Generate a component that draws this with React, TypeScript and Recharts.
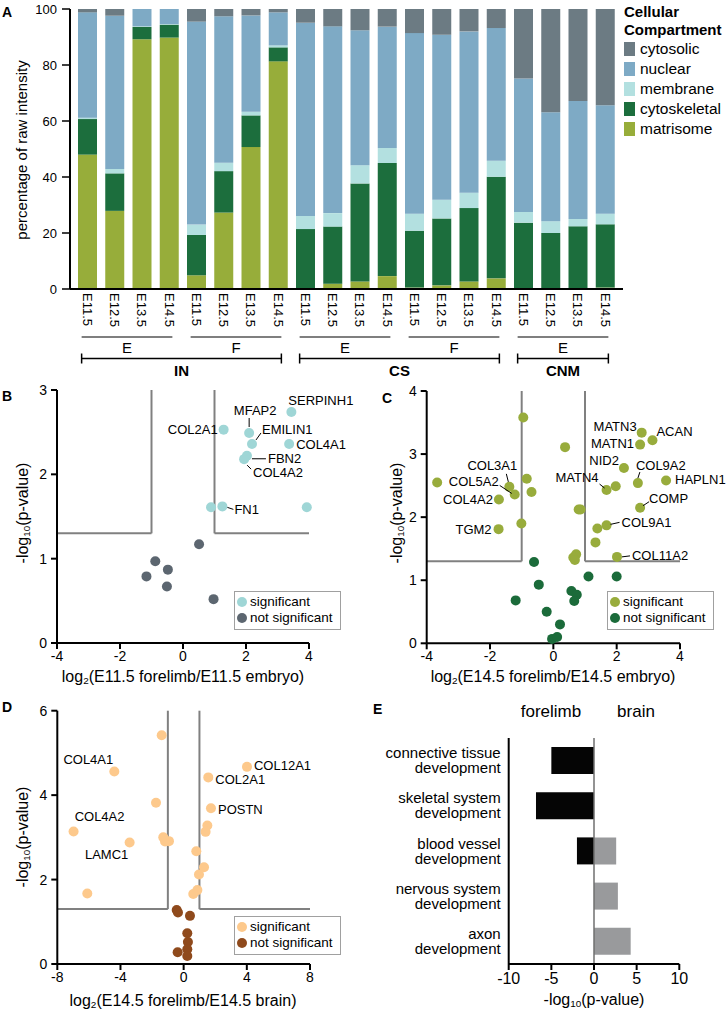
import React from 'react';
import {
  BarChart, Bar, XAxis, YAxis, ScatterChart, Scatter, ReferenceLine,
} from 'recharts';

const FONT = '"Liberation Sans", Arial, Helvetica, sans-serif';

// ---------- A: cellular compartment of raw intensity ----------
// tissue | fraction | stage
const aSamples = [
  'IN|E|E11.5', 'IN|E|E12.5', 'IN|E|E13.5', 'IN|E|E14.5',
  'IN|F|E11.5', 'IN|F|E12.5', 'IN|F|E13.5', 'IN|F|E14.5',
  'CS|E|E11.5', 'CS|E|E12.5', 'CS|E|E13.5', 'CS|E|E14.5',
  'CS|F|E11.5', 'CS|F|E12.5', 'CS|F|E13.5', 'CS|F|E14.5',
  'CNM|E|E11.5', 'CNM|E|E12.5', 'CNM|E|E13.5', 'CNM|E|E14.5',
];
const aMatrisome = [48, 27.9, 89.2, 89.8, 4.9, 27.3, 50.7, 81.3, 0, 1.9, 2.7, 4.6, 0.5, 1.3, 2.7, 3.8, 0, 0, 0, 0.5];
const aCytoskeletal = [12.7, 13.4, 4.4, 4.6, 14.4, 14.8, 11.3, 5.0, 21.4, 20.4, 35.0, 40.4, 20.3, 23.9, 26.2, 36.3, 23.7, 20.0, 22.4, 22.6];
const aMembrane = [0.5, 1.6, 0.2, 0.2, 3.7, 3.0, 1.3, 0.7, 4.7, 4.8, 6.5, 5.4, 6.1, 6.7, 5.5, 5.7, 3.8, 4.2, 2.6, 3.8];
const aNuclear = [37.6, 54.7, 6.2, 5.4, 72.5, 52.3, 34.4, 11.8, 69.0, 66.7, 48.2, 43.3, 64.5, 58.9, 57.6, 47.4, 47.7, 38.9, 42.1, 38.7];
const aCytosolic = [1.2, 2.4, 0, 0, 4.5, 2.6, 2.3, 1.2, 4.9, 6.2, 7.6, 6.3, 8.6, 9.2, 8.0, 6.8, 24.8, 36.9, 32.9, 34.4];
const aYTicks = [0, 20, 40, 60, 80, 100];

const compartments = [
  { key: 'cytosolic', color: '#6c7b83' },
  { key: 'nuclear', color: '#7eaac5' },
  { key: 'membrane', color: '#b3e0e0' },
  { key: 'cytoskeletal', color: '#1c6e3d' },
  { key: 'matrisome', color: '#97ad3a' },
];

const aData = aSamples.map((s, i) => ({
  sample: s,
  matrisome: aMatrisome[i],
  cytoskeletal: aCytoskeletal[i],
  membrane: aMembrane[i],
  nuclear: aNuclear[i],
  cytosolic: aCytosolic[i],
}));

// ---------- B/C/D: volcano plots ----------
type Pt = { x: number; y: number; gene?: string };

const bSignificant: Pt[] = [
  { x: 3.44, y: 2.74, gene: 'SERPINH1' }, { x: 1.29, y: 2.53, gene: 'COL2A1' },
  { x: 2.10, y: 2.49, gene: 'MFAP2' }, { x: 2.19, y: 2.36, gene: 'EMILIN1' },
  { x: 3.37, y: 2.36, gene: 'COL4A1' }, { x: 2.03, y: 2.22, gene: 'FBN2' },
  { x: 1.94, y: 2.18, gene: 'COL4A2' }, { x: 1.25, y: 1.62, gene: 'FN1' },
  { x: 0.89, y: 1.61 }, { x: 3.93, y: 1.61 },
];
const bNotSignificant: Pt[] = [
  { x: 0.51, y: 1.17 }, { x: -0.88, y: 0.97 }, { x: -0.48, y: 0.87 },
  { x: -1.16, y: 0.79 }, { x: -0.51, y: 0.67 }, { x: 0.97, y: 0.52 },
];

const cSignificant: Pt[] = [
  { x: -0.95, y: 3.58 }, { x: 0.37, y: 3.11 }, { x: 2.79, y: 3.34, gene: 'MATN3' },
  { x: 3.13, y: 3.22, gene: 'ACAN' }, { x: 2.74, y: 3.15, gene: 'MATN1' },
  { x: 2.23, y: 2.78, gene: 'NID2' }, { x: 2.67, y: 2.54, gene: 'COL9A2' },
  { x: 3.56, y: 2.58, gene: 'HAPLN1' }, { x: 1.68, y: 2.43, gene: 'MATN4' },
  { x: 1.97, y: 2.49 }, { x: 2.74, y: 2.15, gene: 'COMP' },
  { x: 1.68, y: 1.87, gene: 'COL9A1' }, { x: 1.39, y: 1.82 }, { x: 1.33, y: 1.60 },
  { x: 2.01, y: 1.37, gene: 'COL11A2' }, { x: 0.80, y: 2.12 }, { x: 0.86, y: 2.12 },
  { x: 0.72, y: 1.41 }, { x: 0.63, y: 1.36 }, { x: 0.68, y: 1.32 },
  { x: -3.67, y: 2.55 }, { x: -1.39, y: 2.48, gene: 'COL3A1' },
  { x: -1.22, y: 2.36, gene: 'COL5A2' }, { x: -0.84, y: 2.61 }, { x: -0.69, y: 2.40 },
  { x: -1.72, y: 2.28, gene: 'COL4A2' }, { x: -1.73, y: 1.81, gene: 'TGM2' },
  { x: -1.01, y: 1.90 },
];
const cNotSignificant: Pt[] = [
  { x: -0.61, y: 1.29 }, { x: 1.11, y: 1.06 }, { x: 2.0, y: 1.06 }, { x: -0.46, y: 0.93 },
  { x: -1.19, y: 0.68 }, { x: 0.57, y: 0.83 }, { x: 0.74, y: 0.77 }, { x: 0.66, y: 0.67 },
  { x: -0.21, y: 0.50 }, { x: 0.21, y: 0.30 }, { x: -0.04, y: 0.07 }, { x: 0.12, y: 0.10 },
];

const dSignificant: Pt[] = [
  { x: -1.39, y: 5.42 }, { x: -4.39, y: 4.56, gene: 'COL4A1' }, { x: -1.75, y: 3.82 },
  { x: -6.97, y: 3.14, gene: 'COL4A2' }, { x: -3.42, y: 2.88, gene: 'LAMC1' },
  { x: -6.1, y: 1.67 }, { x: -1.29, y: 3.0 }, { x: -0.93, y: 2.91 }, { x: -1.18, y: 2.90 },
  { x: 4.01, y: 4.67, gene: 'COL12A1' }, { x: 1.56, y: 4.42, gene: 'COL2A1' },
  { x: 1.73, y: 3.69, gene: 'POSTN' }, { x: 1.50, y: 3.28 }, { x: 1.39, y: 3.13 },
  { x: 0.80, y: 2.67 }, { x: 1.29, y: 2.29 }, { x: 0.97, y: 2.12 }, { x: 0.87, y: 1.75 },
  { x: 0.61, y: 1.66 },
];
const dNotSignificant: Pt[] = [
  { x: -0.44, y: 1.28 }, { x: -0.36, y: 1.22 }, { x: 0.40, y: 1.14 }, { x: 0.23, y: 0.73 },
  { x: 0.27, y: 0.52 }, { x: 0.23, y: 0.35 }, { x: -0.38, y: 0.28 }, { x: 0.23, y: 0.19 },
];

const FC_CUT = 1;
const P_CUT = 1.3;

// label placement, pixel offsets from the point
type LabelPos = { dx: number; dy: number; anchor?: 'start' | 'middle' | 'end'; line?: [number, number, number, number] };

const bLabels: Record<string, LabelPos> = {
  SERPINH1: { dx: -3, dy: -11 },
  COL2A1: { dx: -6, dy: 0, anchor: 'end' },
  MFAP2: { dx: 6, dy: -23, anchor: 'middle', line: [0, -15, 0, -6] },
  EMILIN1: { dx: 10, dy: -15, line: [4, -4, 9, -11] },
  COL4A1: { dx: 7, dy: 0 },
  FBN2: { dx: 21, dy: 3, line: [5, 3, 19, 3] },
  COL4A2: { dx: 9, dy: 13, line: [3, 6, 7, 10] },
  FN1: { dx: 12, dy: 3, line: [5, 1, 11, 3] },
};
const cLabels: Record<string, LabelPos> = {
  MATN3: { dx: -5, dy: -6, anchor: 'end' },
  ACAN: { dx: 4, dy: -9 },
  MATN1: { dx: -6, dy: -1, anchor: 'end' },
  NID2: { dx: -5, dy: -8, anchor: 'end' },
  COL9A2: { dx: -2, dy: -18, line: [0, -5, 2, -11] },
  HAPLN1: { dx: 9, dy: -1 },
  MATN4: { dx: -8, dy: -13, anchor: 'end', line: [-7, -6, -2, -2] },
  COMP: { dx: 9, dy: -9, line: [3, -2, 9, -6] },
  COL9A1: { dx: 15, dy: -3, line: [4, -1, 13, -3] },
  COL11A2: { dx: 15, dy: -1, line: [5, 0, 13, -1] },
  COL3A1: { dx: -17, dy: -21, anchor: 'middle', line: [-3, -13, -1, -5] },
  COL5A2: { dx: -16, dy: -13, anchor: 'end', line: [-15, -9, -3, -1] },
  COL4A2: { dx: -6, dy: 0, anchor: 'end' },
  TGM2: { dx: -7, dy: 0, anchor: 'end' },
};
const dLabels: Record<string, LabelPos> = {
  COL4A1: { dx: -26, dy: -12, anchor: 'middle' },
  COL4A2: { dx: 26, dy: -15, anchor: 'middle' },
  LAMC1: { dx: -23, dy: 12, anchor: 'middle' },
  COL12A1: { dx: 7, dy: -1 },
  COL2A1: { dx: 7, dy: 2 },
  POSTN: { dx: 7, dy: 1 },
};

// ---------- E: GO enrichment ----------
const eTerms = [
  'connective tissue development',
  'skeletal system development',
  'blood vessel development',
  'nervous system development',
  'axon development',
];
const eForelimb = [-5.0, -6.8, -2.0, 0, 0];
const eBrain = [0, 0, 2.6, 2.8, 4.3];
const eTicks = [-10, -5, 0, 5, 10];
const eData = eTerms.map((t, i) => ({ term: t, forelimb: eForelimb[i], brain: eBrain[i] }));

// ---------- shared styling ----------
const axisLine = { stroke: '#000', strokeWidth: 2 };
const abs = (left: number, top: number): React.CSSProperties => ({ position: 'absolute', left, top });

function PanelLetter({ left, top, children }: { left: number; top: number; children: React.ReactNode }) {
  return <div style={{ ...abs(left, top), fontWeight: 700, fontSize: 14, lineHeight: '14px' }}>{children}</div>;
}

function Title({ cx, cy, vertical, size = 16, children }: { cx: number; cy: number; vertical?: boolean; size?: number; children: React.ReactNode }) {
  return (
    <div style={{
      ...abs(cx, cy), whiteSpace: 'nowrap', fontSize: size, lineHeight: '18px',
      transform: `translate(-50%, -50%)${vertical ? ' rotate(-90deg)' : ''}`,
    }}>{children}</div>
  );
}

const Sub = ({ children }: { children: React.ReactNode }) => (
  <sub style={{ fontSize: '0.62em', verticalAlign: '-0.25em', lineHeight: 0 }}>{children}</sub>
);

// ---------- panel A ----------
const A_LEFT = 70;
const A_RIGHT = 623;
const A_PAD = 4;

function StageTick(props: any) {
  const { x, y, payload } = props;
  const stage = String(payload.value).split('|')[2];
  return (
    <text transform={`translate(${x},${y}) rotate(90)`} x={0} y={0} dy="0.36em"
      textAnchor="start" fontSize={13} fill="#000" fontFamily={FONT}>{stage}</text>
  );
}

function runs(keyOf: (s: string) => string) {
  const out: { key: string; from: number; to: number }[] = [];
  aSamples.forEach((s, i) => {
    const k = keyOf(s);
    const last = out[out.length - 1];
    if (last && last.key === k) last.to = i;
    else out.push({ key: k, from: i, to: i });
  });
  return out;
}

function GroupBrackets() {
  const band = (A_RIGHT - A_LEFT - 2 * A_PAD) / aSamples.length;
  const cx = (i: number) => A_LEFT + A_PAD + (i + 0.5) * band;
  const sub = runs((s) => s.split('|').slice(0, 2).join('|'));
  const main = runs((s) => s.split('|')[0]);
  return (
    <svg width={727} height={390} style={abs(0, 0)} fontFamily={FONT}>
      {sub.map((g) => {
        const x1 = cx(g.from) - 6;
        const x2 = cx(g.to) + 3;
        return (
          <g key={g.key}>
            <line x1={x1} x2={x2} y1={337} y2={337} stroke="#000" strokeWidth={1.2} />
            <text x={(x1 + x2) / 2} y={348} dy="0.35em" textAnchor="middle" fontSize={15}>{g.key.split('|')[1]}</text>
          </g>
        );
      })}
      {main.map((g) => {
        const x1 = cx(g.from) - 6;
        const x2 = cx(g.to) + 3;
        return (
          <g key={g.key}>
            <line x1={x1} x2={x2} y1={358.5} y2={358.5} stroke="#000" strokeWidth={1.5} />
            <line x1={x1} x2={x1} y1={353.5} y2={363.5} stroke="#000" strokeWidth={1.5} />
            <line x1={x2} x2={x2} y1={353.5} y2={363.5} stroke="#000" strokeWidth={1.5} />
            <text x={(x1 + x2) / 2} y={370.5} dy="0.35em" textAnchor="middle" fontSize={15} fontWeight={700}>{g.key}</text>
          </g>
        );
      })}
    </svg>
  );
}

function CompartmentLegend() {
  return (
    <div style={{ ...abs(624, 3), fontSize: 15.5 }}>
      <div style={{ fontWeight: 700, fontSize: 15, lineHeight: '18px' }}>Cellular<br />Compartment</div>
      {compartments.map((c) => (
        <div key={c.key} style={{ display: 'flex', alignItems: 'center', height: 20 }}>
          <span style={{ display: 'inline-block', width: 11, height: 14, background: c.color, marginRight: 5 }} />
          {c.key}
        </div>
      ))}
    </div>
  );
}

function PanelA() {
  const stackOrder = ['matrisome', 'cytoskeletal', 'membrane', 'nuclear', 'cytosolic'];
  return (
    <>
      <div style={abs(0, 0)}>
        <BarChart width={640} height={345} data={aData} margin={{ top: 9, right: 17, left: 10, bottom: 0 }}>
          <XAxis dataKey="sample" interval={0} tick={<StageTick />} tickLine={false} tickSize={0} tickMargin={4}
            height={56} axisLine={axisLine} padding={{ left: A_PAD, right: A_PAD }} />
          <YAxis domain={[0, 100]} ticks={aYTicks} width={60} axisLine={axisLine}
            tickLine={{ stroke: '#000', strokeWidth: 1.5 }} tickSize={8} tickMargin={5}
            tick={{ fill: '#000', fontSize: 13, fontFamily: FONT }} />
          {stackOrder.map((k) => (
            <Bar key={k} dataKey={k} stackId="a" barSize={19} isAnimationActive={false}
              fill={compartments.find((c) => c.key === k)!.color} />
          ))}
        </BarChart>
      </div>
      <GroupBrackets />
      <CompartmentLegend />
      <Title cx={22} cy={150} vertical size={15}>percentage of raw intensity</Title>
      <PanelLetter left={2} top={5}>A</PanelLetter>
    </>
  );
}

// ---------- volcano panels ----------
function makeShape(color: string, labels: Record<string, LabelPos>) {
  return (props: any) => {
    const { cx, cy, payload } = props;
    const gene: string | undefined = payload?.gene;
    const lab = gene ? labels[gene] : undefined;
    return (
      <g>
        <circle cx={cx} cy={cy} r={5} fill={color} />
        {lab && lab.line && (
          <line x1={cx + lab.line[0]} y1={cy + lab.line[1]} x2={cx + lab.line[2]} y2={cy + lab.line[3]}
            stroke="#000" strokeWidth={1} />
        )}
        {lab && (
          <text x={cx + lab.dx} y={cy + lab.dy} dy="0.35em" textAnchor={lab.anchor ?? 'start'}
            fontSize={13} fill="#000" fontFamily={FONT}>{gene}</text>
        )}
      </g>
    );
  };
}

function ScatterLegend({ left, top, sigColor, nonColor }: { left: number; top: number; sigColor: string; nonColor: string }) {
  const dot = (c: string) => (
    <span style={{ display: 'inline-block', width: 10, height: 10, borderRadius: 5, background: c, marginRight: 3 }} />
  );
  return (
    <div style={{
      ...abs(left, top), width: 107, height: 39, boxSizing: 'border-box', border: '1px solid #a0a0a0',
      background: '#fff', padding: '2px 0 0 2px', fontSize: 13.5, lineHeight: '16px',
    }}>
      <div style={{ display: 'flex', alignItems: 'center', height: 16 }}>{dot(sigColor)}significant</div>
      <div style={{ display: 'flex', alignItems: 'center', height: 16 }}>{dot(nonColor)}not significant</div>
    </div>
  );
}

type VolcanoProps = {
  left: number; top: number; width: number; height: number;
  margin: { top: number; right: number; left: number; bottom: number };
  sig: Pt[]; non: Pt[]; sigColor: string; nonColor: string;
  xDomain: [number, number]; xTicks: number[]; yDomain: [number, number]; yTicks: number[];
  labels: Record<string, LabelPos>;
};

function Volcano(p: VolcanoProps) {
  const [x0, x1] = p.xDomain;
  const yTop = p.yDomain[1];
  const thr = { stroke: '#808080', strokeWidth: 2 };
  return (
    <div style={abs(p.left, p.top)}>
      <ScatterChart width={p.width} height={p.height} margin={p.margin}>
        <XAxis type="number" dataKey="x" domain={p.xDomain} ticks={p.xTicks} height={25} axisLine={axisLine}
          tickLine={{ stroke: '#000', strokeWidth: 2 }} tickSize={6} tickMargin={2}
          tick={{ fill: '#000', fontSize: 14, fontFamily: FONT }} />
        <YAxis type="number" dataKey="y" domain={p.yDomain} ticks={p.yTicks} width={40} axisLine={axisLine}
          tickLine={{ stroke: '#000', strokeWidth: 2 }} tickSize={6} tickMargin={4}
          tick={{ fill: '#000', fontSize: 14, fontFamily: FONT }} />
        <ReferenceLine segment={[{ x: -FC_CUT, y: P_CUT }, { x: -FC_CUT, y: yTop }]} {...thr} />
        <ReferenceLine segment={[{ x: FC_CUT, y: P_CUT }, { x: FC_CUT, y: yTop }]} {...thr} />
        <ReferenceLine segment={[{ x: x0, y: P_CUT }, { x: -FC_CUT, y: P_CUT }]} {...thr} />
        <ReferenceLine segment={[{ x: FC_CUT, y: P_CUT }, { x: x1, y: P_CUT }]} {...thr} />
        <Scatter data={p.non} isAnimationActive={false} shape={makeShape(p.nonColor, p.labels)} />
        <Scatter data={p.sig} isAnimationActive={false} shape={makeShape(p.sigColor, p.labels)} />
      </ScatterChart>
    </div>
  );
}

const yTitle = <>-log<Sub>10</Sub>(p-value)</>;

// ---------- panel E ----------
function TermTick(props: any) {
  const { x, y, payload } = props;
  const words = String(payload.value).split(' ');
  const last = words.pop();
  return (
    <text x={x} y={y} textAnchor="end" fontSize={15} fill="#000" fontFamily={FONT}>
      <tspan x={x} dy={-2.5}>{words.join(' ')}</tspan>
      <tspan x={x} dy={15}>{last}</tspan>
    </text>
  );
}

function PanelE() {
  return (
    <>
      <div style={abs(360, 680)}>
        <BarChart width={367} height={333} data={eData} layout="vertical" stackOffset="sign"
          margin={{ top: 58, right: 47.7, left: 8.7, bottom: 24 }}>
          <XAxis type="number" domain={[-10, 10]} ticks={eTicks} height={25} axisLine={axisLine}
            tickLine={{ stroke: '#000', strokeWidth: 2 }} tickSize={6} tickMargin={3}
            tick={{ fill: '#000', fontSize: 16, fontFamily: FONT }} />
          <YAxis type="category" dataKey="term" width={140} axisLine={axisLine} tickLine={false}
            tickSize={0} tickMargin={8} interval={0} tick={<TermTick />} />
          <Bar dataKey="forelimb" stackId="go" fill="#050505" barSize={27} isAnimationActive={false} />
          <Bar dataKey="brain" stackId="go" fill="#999a9c" barSize={27} isAnimationActive={false} />
          <ReferenceLine x={0} stroke="#6f6f6f" strokeWidth={1.5} />
        </BarChart>
      </div>
      <Title cx={551} cy={712} size={17}>forelimb</Title>
      <Title cx={636} cy={712} size={17}>brain</Title>
      <Title cx={594} cy={1000}>{yTitle}</Title>
      <PanelLetter left={373} top={702}>E</PanelLetter>
    </>
  );
}

export default function App() {
  return (
    <div style={{ position: 'absolute', left: 0, top: 0, width: 727, height: 1013, background: '#fff', fontFamily: FONT, color: '#000', overflow: 'hidden' }}>
      <PanelA />

      <Volcano left={0} top={380} width={360} height={300} margin={{ top: 10, right: 51, left: 17, bottom: 12 }}
        sig={bSignificant} non={bNotSignificant} sigColor="#9fd6d6" nonColor="#5c6670"
        xDomain={[-4, 4]} xTicks={[-4, -2, 0, 2, 4]} yDomain={[0, 3]} yTicks={[0, 1, 2, 3]} labels={bLabels} />
      <ScatterLegend left={234} top={591} sigColor="#9fd6d6" nonColor="#5c6670" />
      <Title cx={23} cy={513} vertical>{yTitle}</Title>
      <Title cx={183} cy={677}>log<Sub>2</Sub>(E11.5 forelimb/E11.5 embryo)</Title>
      <PanelLetter left={2} top={389}>B</PanelLetter>

      <Volcano left={360} top={380} width={367} height={300} margin={{ top: 11, right: 47, left: 26.7, bottom: 11.7 }}
        sig={cSignificant} non={cNotSignificant} sigColor="#98ac3c" nonColor="#1b6b3a"
        xDomain={[-4, 4]} xTicks={[-4, -2, 0, 2, 4]} yDomain={[0, 4]} yTicks={[0, 1, 2, 3, 4]} labels={cLabels} />
      <ScatterLegend left={607} top={591} sigColor="#98ac3c" nonColor="#1b6b3a" />
      <Title cx={397} cy={513} vertical>{yTitle}</Title>
      <Title cx={553} cy={677}>log<Sub>2</Sub>(E14.5 forelimb/E14.5 embryo)</Title>
      <PanelLetter left={382} top={391}>C</PanelLetter>

      <Volcano left={0} top={680} width={360} height={333} margin={{ top: 30.7, right: 50, left: 17.3, bottom: 24 }}
        sig={dSignificant} non={dNotSignificant} sigColor="#fdc98c" nonColor="#8f4a1c"
        xDomain={[-8, 8]} xTicks={[-8, -4, 0, 4, 8]} yDomain={[0, 6]} yTicks={[0, 2, 4, 6]} labels={dLabels} />
      <ScatterLegend left={234} top={916} sigColor="#fdc98c" nonColor="#8f4a1c" />
      <Title cx={23} cy={837} vertical>{yTitle}</Title>
      <Title cx={183} cy={1001}>log<Sub>2</Sub>(E14.5 forelimb/E14.5 brain)</Title>
      <PanelLetter left={2} top={700}>D</PanelLetter>

      <PanelE />
    </div>
  );
}
